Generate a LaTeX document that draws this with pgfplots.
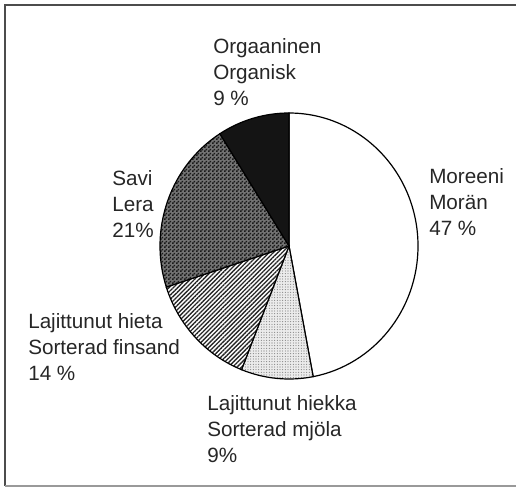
\documentclass[border=0pt]{standalone}
\usepackage{pgfplots}
\pgfplotsset{compat=1.18}
\usepackage{pgfplotstable}
\usepackage{fontspec}
\setmainfont{Liberation Sans}
\usetikzlibrary{patterns,patterns.meta}

\pgfdeclarepattern{name=finechecker, type=uncolored,
  bottom left={\pgfpointorigin}, top right={\pgfpoint{3pt}{3pt}},
  tile size={\pgfpoint{3pt}{3pt}},
  code={\pgfpathrectangle{\pgfpointorigin}{\pgfpoint{1.5pt}{1.5pt}}%
        \pgfpathrectangle{\pgfpoint{1.5pt}{1.5pt}}{\pgfpoint{1.5pt}{1.5pt}}%
        \pgfusepath{fill}}}

% shares in percent, clockwise from 12 o'clock
% Moreeni 47, Lajittunut hiekka 9, Lajittunut hieta 14, Savi 21, Orgaaninen 9
\newcommand{\slice}[3]{% #1 cumulative share before, #2 share, #3 style
  \draw[line width=0.9pt,#3] (axis cs:289,241) -- ++({90-3.6*#1}:96.75pt and 99.75pt)
    arc[start angle={90-3.6*#1}, delta angle={-3.6*#2}, x radius=96.75pt, y radius=99.75pt] -- cycle;}

\begin{document}
\begin{tikzpicture}
\begin{axis}[at={(0,0)}, anchor=south west, scale only axis, hide axis,
  width=387pt, height=365.25pt, xmin=0, xmax=516, ymin=0, ymax=487, clip=false]
\addplot[draw=none, forget plot] coordinates {(289,241)};
\slice{0}{47}{fill=white}
\slice{47}{9}{preaction={fill=black!8}, pattern={Dots[distance=2pt, radius=0.4pt]}, pattern color=black!55}
\slice{56}{14}{preaction={fill=white}, pattern={Lines[angle=45, distance=2.3pt, line width=1pt]}, pattern color=black!85}
\slice{70}{21}{preaction={fill=black!55}, pattern=finechecker, pattern color=black!90}
\slice{91}{9}{fill=black!92}
% frame
\draw[black!70, line width=1.4pt] (axis cs:516,482) -- (axis cs:5,482) -- (axis cs:5,1);
\draw[black!40, line width=1.2pt] (axis cs:5,1) -- (axis cs:516,1);
% labels
\begin{scope}[every node/.style={anchor=west, align=left, inner sep=0pt,
   font=\fontsize{15.5pt}{19.5pt}\selectfont, text=black!85}]
\node at (axis cs:213,415) {Orgaaninen\\Organisk\\9 \%};
\node at (axis cs:429,285) {Moreeni\\Morän\\47 \%};
\node at (axis cs:112,283) {Savi\\Lera\\21\%};
\node at (axis cs:28,140) {Lajittunut hieta\\Sorterad finsand\\14 \%};
\node at (axis cs:207,58) {Lajittunut hiekka\\Sorterad mjöla\\9\%};
\end{scope}
\end{axis}
\pgfresetboundingbox
\path[use as bounding box] (0,0) rectangle (387pt,365.25pt);
\end{tikzpicture}
\end{document}
